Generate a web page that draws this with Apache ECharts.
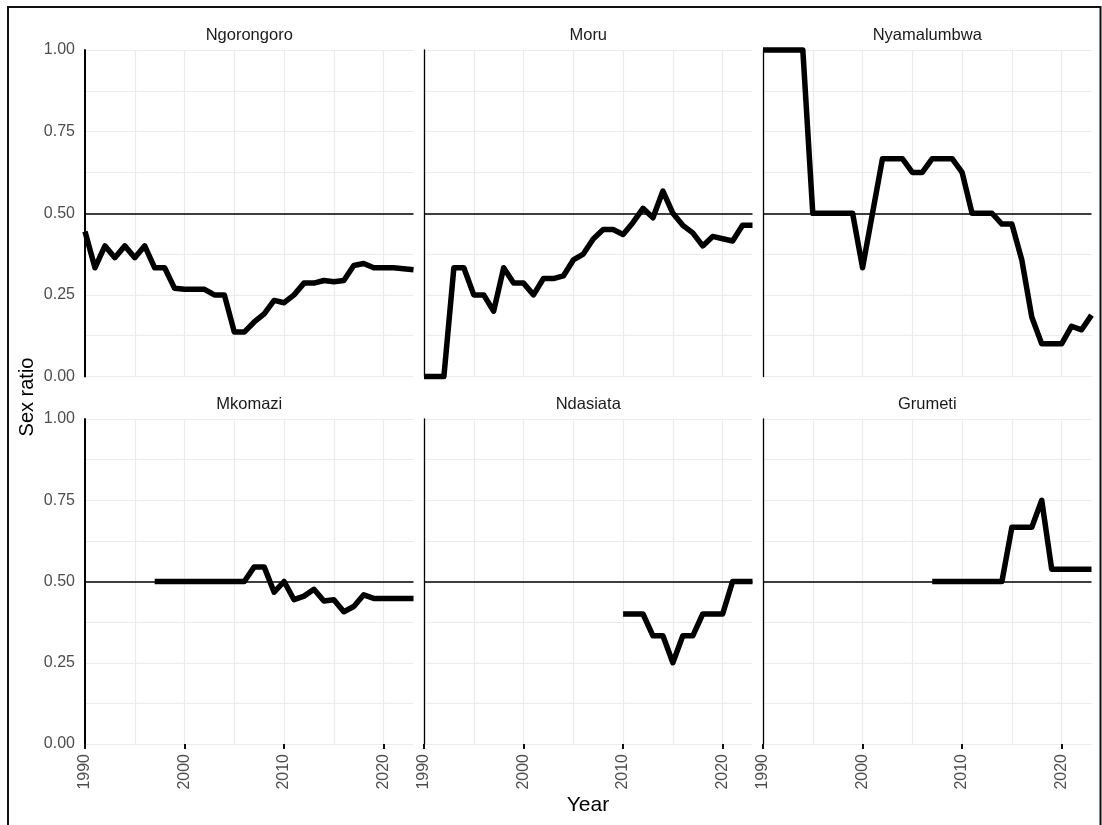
<!DOCTYPE html>
<html>
<head>
<meta charset="utf-8">
<title>Sex ratio by site</title>
<script src="https://cdn.jsdelivr.net/npm/echarts@6/dist/echarts.min.js"></script>
<style>
  html, body { margin: 0; padding: 0; background: #ffffff; }
  #chart { width: 1102px; height: 825px; }
</style>
</head>
<body>
<div id="chart"></div>
<script>
// Survey years shared by all sites
const years = [1990, 1991, 1992, 1993, 1994, 1995, 1996, 1997, 1998, 1999,
               2000, 2001, 2002, 2003, 2004, 2005, 2006, 2007, 2008, 2009,
               2010, 2011, 2012, 2013, 2014, 2015, 2016, 2017, 2018, 2019,
               2020, 2021, 2022, 2023];

// Sex ratio per year (null = no record that year)
const ngorongoro = [0.444, 0.333, 0.4, 0.364, 0.4, 0.364, 0.4, 0.333, 0.333, 0.27,
                    0.267, 0.267, 0.267, 0.25, 0.25, 0.136, 0.136, 0.167, 0.192, 0.233,
                    0.226, 0.25, 0.286, 0.286, 0.294, 0.29, 0.294, 0.34, 0.346, 0.333,
                    0.333, 0.333, 0.33, 0.327];
const moru = [0, 0, 0, 0.333, 0.333, 0.25, 0.25, 0.2, 0.333, 0.286,
              0.286, 0.25, 0.3, 0.3, 0.308, 0.357, 0.375, 0.421, 0.45, 0.45,
              0.435, 0.472, 0.515, 0.486, 0.568, 0.5, 0.463, 0.44, 0.4, 0.429,
              0.422, 0.415, 0.463, 0.463];
const nyamalumbwa = [1, 1, 1, 1, 1, 0.5, 0.5, 0.5, 0.5, 0.5,
                     0.333, 0.5, 0.667, 0.667, 0.667, 0.625, 0.625, 0.667, 0.667, 0.667,
                     0.625, 0.5, 0.5, 0.5, 0.467, 0.467, 0.357, 0.182, 0.1, 0.1,
                     0.1, 0.154, 0.143, 0.188];
const mkomazi = [null, null, null, null, null, null, null, 0.5, 0.5, 0.5,
                 0.5, 0.5, 0.5, 0.5, 0.5, 0.5, 0.5, 0.545, 0.545, 0.467,
                 0.5, 0.444, 0.455, 0.476, 0.44, 0.444, 0.407, 0.423, 0.459, 0.448,
                 0.448, 0.448, 0.448, 0.448];
const ndasiata = [null, null, null, null, null, null, null, null, null, null,
                  null, null, null, null, null, null, null, null, null, null,
                  0.4, 0.4, 0.4, 0.333, 0.333, 0.25, 0.333, 0.333, 0.4, 0.4,
                  0.4, 0.5, 0.5, 0.5];
const grumeti = [null, null, null, null, null, null, null, null, null, null,
                 null, null, null, null, null, null, null, 0.5, 0.5, 0.5,
                 0.5, 0.5, 0.5, 0.5, 0.5, 0.667, 0.667, 0.667, 0.75, 0.538,
                 0.538, 0.538, 0.538, 0.538];

// Panel order: top row then bottom row
const siteNames = ['Ngorongoro', 'Moru', 'Nyamalumbwa', 'Mkomazi', 'Ndasiata', 'Grumeti'];
const siteValues = [ngorongoro, moru, nyamalumbwa, mkomazi, ndasiata, grumeti];

// Axis breaks
const xTicks = [1990, 2000, 2010, 2020];
const yTicks = [0, 0.25, 0.5, 0.75, 1];
const referenceRatio = 0.5;

const FONT = "'Liberation Sans', Arial, Helvetica, sans-serif";
const colLeft = [85, 424, 763];
const colWidth = 328.5;
const rowTop = [50, 419];
const rowHeight = [326.5, 325];

const grids = [], xAxes = [], yAxes = [], series = [], graphics = [];

siteNames.forEach((name, i) => {
  const col = i % 3, row = Math.floor(i / 3);
  const isBottom = row === 1, isLeft = col === 0;

  grids.push({ left: colLeft[col], top: rowTop[row], width: colWidth, height: rowHeight[row] });

  // x axis carrying the data and the 5-year grid lines
  xAxes.push({
    type: 'value', gridIndex: i, min: 1990, max: 2023, interval: 5,
    axisLine: { show: false },
    axisTick: { show: false },
    axisLabel: { show: false },
    splitLine: { show: true, showMaxLine: false, lineStyle: { color: '#ebebeb', width: 1.2 } }
  });
  // companion x axis for the decade ticks and labels
  xAxes.push({
    type: 'value', gridIndex: i, position: 'bottom', min: 1990, max: 2023, interval: 10,
    axisLine: { show: false },
    axisTick: { show: isBottom, customValues: xTicks, length: 5, lineStyle: { color: '#111', width: 2 } },
    axisLabel: {
      show: isBottom, customValues: xTicks, rotate: 90, margin: 10,
      color: '#4d4d4d', fontSize: 16, fontFamily: FONT,
      formatter: v => String(v)
    },
    splitLine: { show: false }
  });

  yAxes.push({
    type: 'value', gridIndex: i, min: 0, max: 1, interval: 0.125,
    axisLine: { show: true, onZero: false, lineStyle: { color: '#000', width: isLeft ? 2 : 1.3 } },
    axisTick: { show: false },
    axisLabel: {
      show: isLeft, customValues: yTicks, margin: 10,
      color: '#4d4d4d', fontSize: 16, fontFamily: FONT,
      formatter: v => v.toFixed(2)
    },
    splitLine: { show: true, lineStyle: { color: '#ebebeb', width: 1.2 } }
  });

  const values = siteValues[i];
  const points = years.map((y, k) => [y, values[k]]).filter(p => p[1] !== null);

  series.push({
    type: 'line', name: name, xAxisIndex: i * 2, yAxisIndex: i,
    data: points, showSymbol: false, clip: false, silent: true,
    lineStyle: { color: '#000', width: 5.5, join: 'round', cap: 'butt' },
    markLine: {
      silent: true, symbol: ['none', 'none'], label: { show: false },
      lineStyle: { color: '#000', width: 1.5, type: 'solid' },
      data: [{ yAxis: referenceRatio }]
    },
    z: 3
  });

  // Panel strip title
  graphics.push({
    type: 'text', x: colLeft[col] + colWidth / 2, y: isBottom ? 404 : 35,
    style: {
      text: name, fill: '#1a1a1a', font: '16.5px ' + FONT,
      align: 'center', verticalAlign: 'middle',
      textAlign: 'center', textVerticalAlign: 'middle'
    }
  });
});

// Axis titles
graphics.push({
  type: 'text', x: 588, y: 805,
  style: { text: 'Year', fill: '#000', font: '21px ' + FONT,
           align: 'center', verticalAlign: 'middle', textAlign: 'center', textVerticalAlign: 'middle' }
});
graphics.push({
  type: 'text', x: 27, y: 397, rotation: Math.PI / 2,
  style: { text: 'Sex ratio', fill: '#000', font: '20px ' + FONT,
           align: 'center', verticalAlign: 'middle', textAlign: 'center', textVerticalAlign: 'middle' }
});
// Outer frame
graphics.push({
  type: 'rect', shape: { x: 8, y: 7, width: 1092.5, height: 830 },
  style: { fill: 'none', stroke: '#111', lineWidth: 2 }, z: 10
});

const chart = echarts.init(document.getElementById('chart'), null, { renderer: 'canvas' });
chart.setOption({
  animation: false,
  backgroundColor: '#ffffff',
  grid: grids,
  xAxis: xAxes,
  yAxis: yAxes,
  series: series,
  graphic: graphics
});
</script>
</body>
</html>
